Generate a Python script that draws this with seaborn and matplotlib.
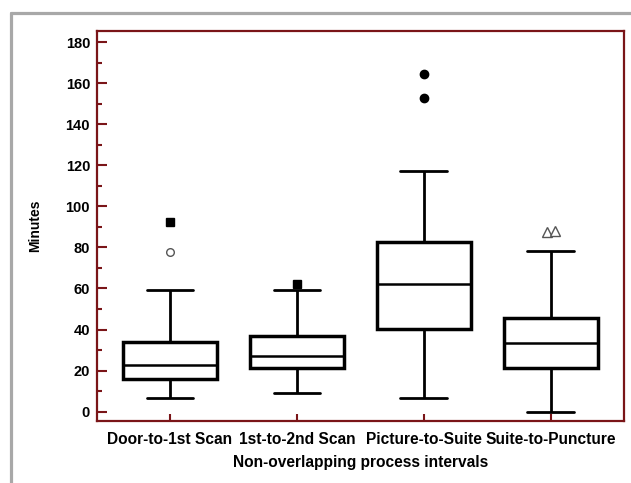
import numpy as np
import pandas as pd
import matplotlib
matplotlib.use('Agg')
import matplotlib.pyplot as plt
from matplotlib.lines import Line2D
from matplotlib.ticker import MultipleLocator
import seaborn as sns

sns.set_style('white')
plt.rcParams['font.family'] = ['Liberation Sans', 'DejaVu Sans']
plt.rcParams['font.weight'] = 'bold'
plt.rcParams['text.color'] = 'black'
plt.rcParams['axes.labelcolor'] = 'black'
plt.rcParams['xtick.labelcolor'] = 'black'
plt.rcParams['ytick.labelcolor'] = 'black'

# values (minutes)
categories = ['Door-to-1st Scan', '1st-to-2nd Scan', 'Picture-to-Suite', 'Suite-to-Puncture']
whisker_low = [6.7, 9.1, 6.7, 0.0]
q1 = [15.9, 21.1, 40.2, 21.1]
median = [22.8, 27.2, 62.0, 33.2]
q3 = [34.1, 36.9, 82.6, 45.5]
whisker_high = [59.4, 59.4, 117.4, 78.4]

out_group = ['Door-to-1st Scan', 'Door-to-1st Scan', '1st-to-2nd Scan',
             'Picture-to-Suite', 'Picture-to-Suite',
             'Suite-to-Puncture', 'Suite-to-Puncture']
out_value = [92.3, 77.7, 62.4, 164.4, 152.8, 87.3, 88.0]
out_kind = ['square', 'circle', 'square', 'dot', 'dot', 'triangle', 'triangle']

# five summary points per group -> quartiles land exactly on them
rows = []
for i, cat in enumerate(categories):
    for v in [whisker_low[i], q1[i], median[i], q3[i], whisker_high[i]]:
        rows.append({'interval': cat, 'minutes': v})
box_data = pd.DataFrame(rows)

outliers = pd.DataFrame({'interval': out_group, 'minutes': out_value, 'kind': out_kind})

dark_red = '#7a1518'

fig = plt.figure(figsize=(6.31, 4.83), dpi=100)
ax = fig.add_axes([0.1537, 0.129, 0.8352, 0.8068])

sns.boxplot(data=box_data, x='interval', y='minutes', order=categories,
            whis=(0, 100), showfliers=False, width=0.74,
            color='white', linecolor='black', linewidth=2.0,
            boxprops={'linewidth': 2.5}, medianprops={'linewidth': 1.8}, ax=ax)

# outliers, markers differ per group like the original
marker_style = {
    'square': dict(marker='s', ms=5.5, mfc='black', mec='black'),
    'circle': dict(marker='o', ms=5.5, mfc='white', mec='#555555', mew=1.0),
    'dot': dict(marker='o', ms=6, mfc='black', mec='black'),
    'triangle': dict(marker='^', ms=6.5, mfc='white', mec='#555555', mew=1.0),
}
outliers['pos'] = outliers['interval'].map({c: i for i, c in enumerate(categories)})
# side-by-side nudge when same marker repeats in a group at similar height
dup = outliers.groupby(['interval', 'kind'])['minutes'].transform(lambda s: s.max() - s.min() < 3)
k = outliers.groupby(['interval', 'kind']).cumcount()
n = outliers.groupby(['interval', 'kind'])['minutes'].transform('size')
outliers['pos'] = outliers['pos'] + np.where(dup & (n > 1), (k - (n - 1) / 2) * 0.07, 0)
for kind, grp in outliers.groupby('kind'):
    ax.plot(grp['pos'], grp['minutes'], ls='none', zorder=5, **marker_style[kind])

ax.set_xlim(-0.575, 3.575)
ax.set_ylim(-4.4, 185.4)
ax.yaxis.set_major_locator(MultipleLocator(20))
ax.yaxis.set_minor_locator(MultipleLocator(10))

for side in ['left', 'right', 'top', 'bottom']:
    ax.spines[side].set_color(dark_red)
    ax.spines[side].set_linewidth(1.6)

ax.tick_params(axis='y', which='major', direction='in', length=7, width=1.5,
               color=dark_red, labelsize=10.5, pad=5, left=True)
ax.tick_params(axis='y', which='minor', direction='in', length=3.5, width=1.5,
               color=dark_red, left=True)
ax.tick_params(axis='x', which='major', direction='in', length=5, width=1.5,
               color=dark_red, labelsize=11.2, pad=8, bottom=True)
for lab in ax.get_xticklabels() + ax.get_yticklabels():
    lab.set_fontweight('bold')

ax.set_ylabel('Minutes', fontsize=10, fontweight='bold', labelpad=17)
ax.set_xlabel('Non-overlapping process intervals', fontsize=11.2, fontweight='bold', labelpad=6)

# grey frame around the figure (left and top edges visible)
frame_col = '#a8a8a8'
fig.add_artist(Line2D([11 / 631, 11 / 631], [0, 1 - 13 / 483], transform=fig.transFigure,
                      color=frame_col, lw=2.3))
fig.add_artist(Line2D([11 / 631, 1], [1 - 13 / 483, 1 - 13 / 483], transform=fig.transFigure,
                      color=frame_col, lw=2.3))

fig.savefig('out.png', dpi=100)
